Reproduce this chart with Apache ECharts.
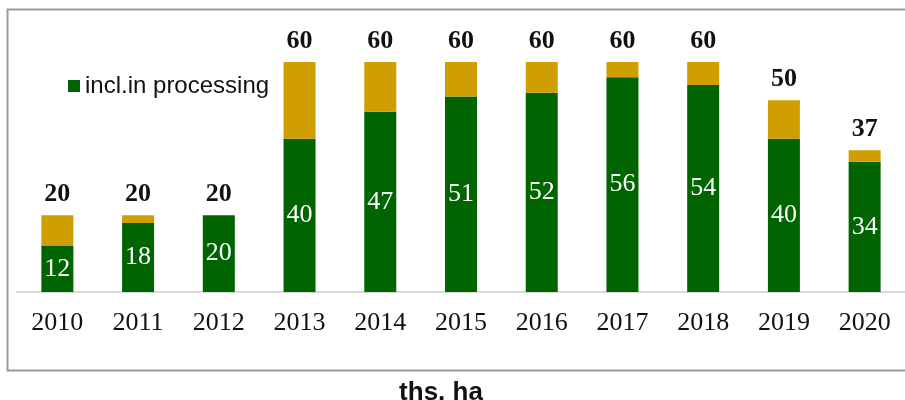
<!DOCTYPE html>
<html><head><meta charset="utf-8">
<script src="https://cdn.jsdelivr.net/npm/echarts@6/dist/echarts.min.js"></script>
<style>html,body{margin:0;padding:0;background:#fff}#c{width:905px;height:400px}</style>
</head><body><div id="c"></div>
<script>
const categories = ['2010','2011','2012','2013','2014','2015','2016','2017','2018','2019','2020'];
const totals = [20,20,20,60,60,60,60,60,60,50,37];
const processing = [12,18,20,40,47,51,52,56,54,40,34];
const unitLabel = 'ths. ha';
const legendName = 'incl.in processing';

const rest = totals.map((t,i)=>t-processing[i]);
const chart = echarts.init(document.getElementById('c'));
chart.setOption({
  animation:false,
  grid:{left:17,right:-4,top:62,bottom:108},
  legend:{data:[{name:legendName,icon:'rect'}],left:63,top:69,itemWidth:12,itemHeight:12,itemGap:4,
    textStyle:{fontFamily:'Liberation Sans',fontSize:24,color:'#111'}},
  title:{text:unitLabel,left:436,textAlign:'center',top:375,
    textStyle:{fontFamily:'Liberation Sans',fontWeight:'bold',fontSize:26,color:'#111'}},
  graphic:[{type:'rect',shape:{x:7.5,y:9.5,width:905,height:361},
    style:{fill:'none',stroke:'#9a9a9a',lineWidth:2},silent:true}],
  xAxis:{type:'category',data:categories,
    axisLine:{lineStyle:{color:'#d9d9d9',width:2}},axisTick:{show:false},
    axisLabel:{fontFamily:'Liberation Serif',fontSize:26,color:'#111',margin:18}},
  yAxis:{type:'value',min:0,max:60,show:false,splitLine:{show:false}},
  series:[
    {name:legendName,type:'bar',stack:'s',data:processing,barWidth:32,
     itemStyle:{color:'#006400'},
     label:{show:true,position:'inside',color:'#fff',fontFamily:'Liberation Serif',fontSize:26}},
    {name:'rest',type:'bar',stack:'s',data:rest,barWidth:32,
     itemStyle:{color:'#CF9E00'},
     label:{show:true,position:'top',distance:8,color:'#111',fontFamily:'Liberation Serif',
       fontWeight:'bold',fontSize:26,formatter:p=>totals[p.dataIndex]}}
  ]
});
</script></body></html>
